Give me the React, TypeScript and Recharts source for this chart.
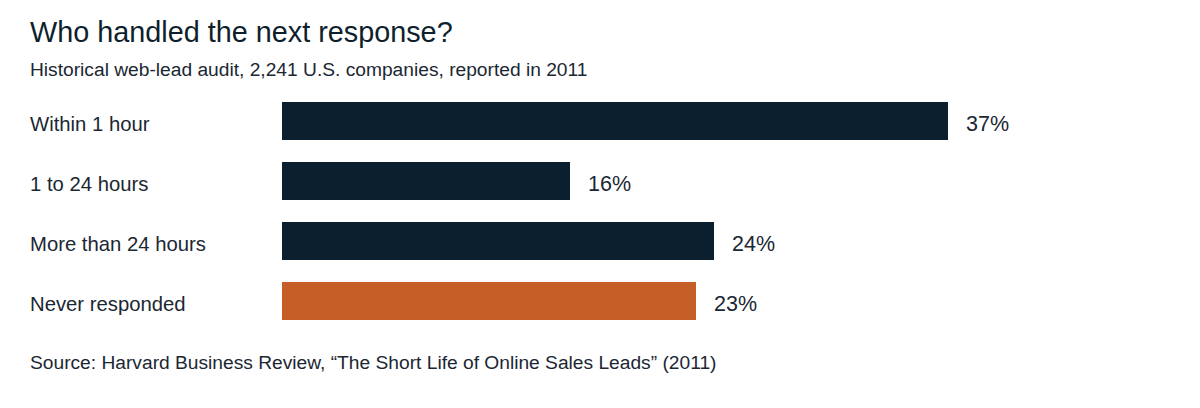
import { BarChart, Bar, XAxis, YAxis, Cell, LabelList } from 'recharts'

const categories = ['Within 1 hour', '1 to 24 hours', 'More than 24 hours', 'Never responded']
const shares = [37, 16, 24, 23]
const highlight = [false, false, false, true]

const data = categories.map((name, i) => ({ name, value: shares[i], hot: highlight[i] }))

const font = '"Liberation Sans", Arial, Helvetica, sans-serif'
const ink = '#0b1f2e'
const textInk = '#1b2733'

const CategoryTick = (props: any) => {
  const { y, payload } = props
  return (
    <text x={30} y={y} dy={10} textAnchor="start" fontSize={20.3} fill={textInk} fontFamily={font}>
      {payload.value}
    </text>
  )
}

const ValueLabel = (props: any) => {
  const { x, y, width, height, value } = props
  return (
    <text x={x + width + 18} y={y + height / 2} dy={10} fontSize={21.5} fill={textInk} fontFamily={font}>
      {`${value}%`}
    </text>
  )
}

export default function App() {
  return (
    <div style={{ position: 'absolute', left: 0, top: 0, width: 1200, height: 408, background: '#fff', fontFamily: font }}>
      <div style={{ position: 'absolute', left: 30, top: 18, fontSize: 28.8, lineHeight: 1, color: '#0f1f2d', whiteSpace: 'nowrap' }}>
        Who handled the next response?
      </div>
      <div style={{ position: 'absolute', left: 30, top: 60, fontSize: 19.2, lineHeight: 1, color: textInk, whiteSpace: 'nowrap' }}>
        Historical web-lead audit, 2,241 U.S. companies, reported in 2011
      </div>
      <BarChart
        width={1200}
        height={408}
        data={data}
        layout="vertical"
        barSize={38}
        margin={{ top: 91, right: 18, bottom: 77, left: 0 }}
      >
        <XAxis type="number" domain={[0, 50]} hide />
        <YAxis type="category" dataKey="name" width={282} axisLine={false} tickLine={false} tick={<CategoryTick />} />
        <Bar dataKey="value" isAnimationActive={false}>
          {data.map((d) => (
            <Cell key={d.name} fill={d.hot ? '#c55e27' : ink} />
          ))}
          <LabelList dataKey="value" content={<ValueLabel />} />
        </Bar>
      </BarChart>
      <div style={{ position: 'absolute', left: 30, top: 353, fontSize: 19.2, lineHeight: 1, color: textInk, whiteSpace: 'nowrap' }}>
        Source: Harvard Business Review, “The Short Life of Online Sales Leads” (2011)
      </div>
    </div>
  )
}
